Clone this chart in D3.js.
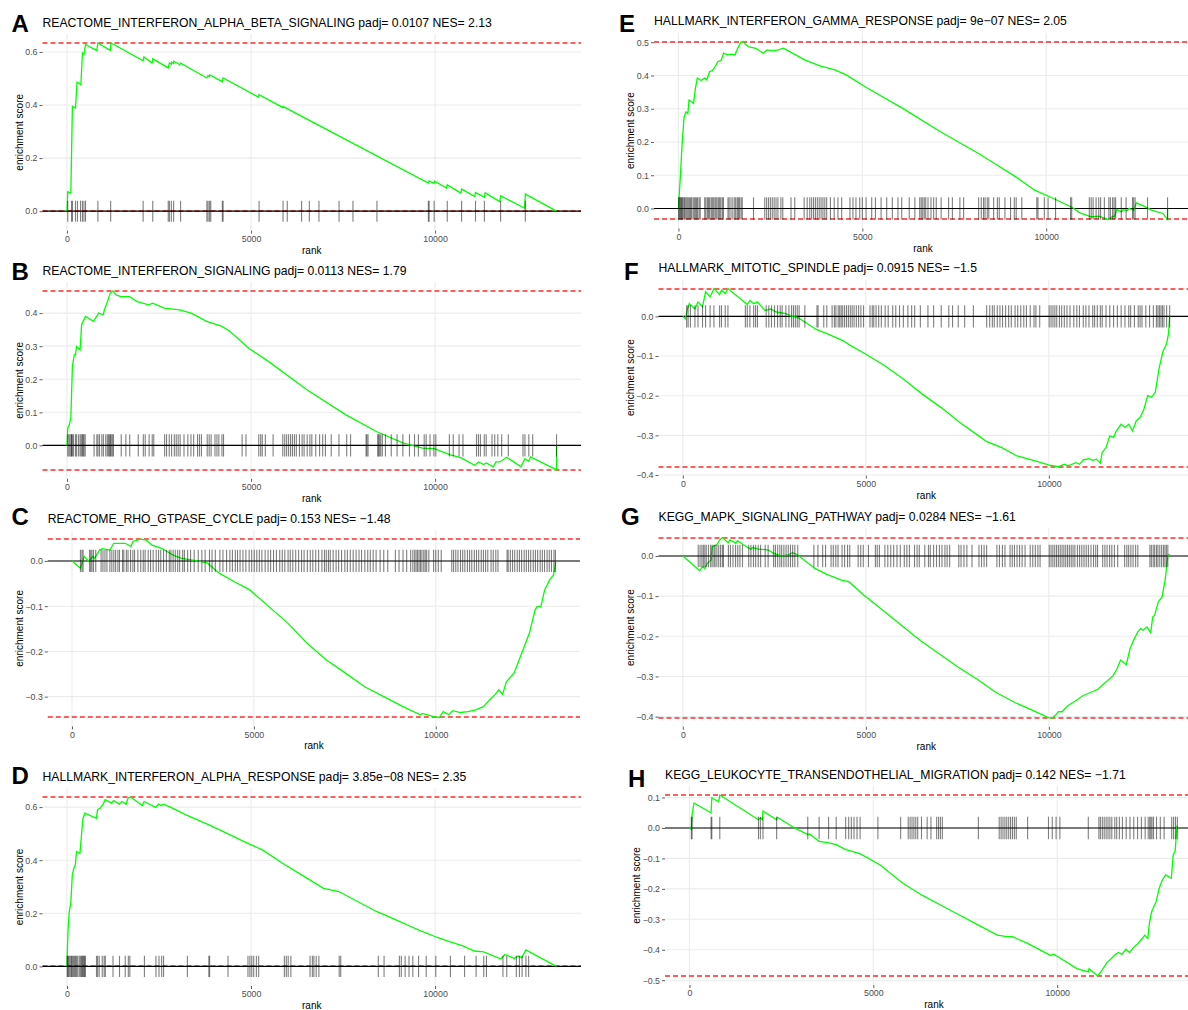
<!DOCTYPE html>
<html lang="en">
<head>
    <meta charset="UTF-8">
    <title>GSEA enrichment plots</title>
    <script type="text/javascript" src="https://cdn.jsdelivr.net/npm/d3@7/dist/d3.min.js"></script>
    <style>
        body {
            margin: 0;
            background: #fff;
        }

        svg {
            display: block;
            font-family: "Liberation Sans", Arial, sans-serif;
        }

        .grid line {
            stroke: #ebebeb;
            stroke-width: 1.1;
        }

        .axis path {
            display: none;
        }

        .axis line {
            stroke: #333;
            stroke-width: 0.8;
        }

        .axis text {
            fill: #4d4d4d;
            font-size: 8.8px;
            font-family: "Liberation Sans", Arial, sans-serif;
        }

        .lim {
            stroke: #ff2a2a;
            stroke-width: 1.6;
            stroke-dasharray: 5, 3;
            fill: none;
        }

        .zero {
            stroke: #000;
            stroke-width: 1.1;
        }

        .es {
            fill: none;
            stroke: #00ff00;
            stroke-width: 1.3;
        }

        .hit {
            stroke: #000;
            stroke-width: 1.1;
            stroke-opacity: 0.5;
        }

        .label {
            font-size: 10px;
            fill: #000;
        }

        .title {
            font-size: 12.2px;
            fill: #000;
        }

        .letter {
            font-size: 24px;
            font-weight: bold;
            fill: #000;
        }
    </style>
</head>
<body>
<script type="text/javascript">
    // 排序基因列表长度
    let geneCount = 13300;
    let xTicks = [0, 5000, 10000];

    /* A */
    let titleA = 'REACTOME_INTERFERON_ALPHA_BETA_SIGNALING padj= 0.0107 NES= 2.13';
    let yTicksA = [0, 0.2, 0.4, 0.6];
    let curveA = [[0, 0], [21, 0.073], [105, 0.068], [126, 0.23], [147, 0.395], [231, 0.389], [273, 0.486], [378, 0.477],
        [420, 0.596], [462, 0.592], [504, 0.628], [809, 0.605], [840, 0.634], [1176, 0.606], [1197, 0.634], [2069, 0.567],
        [2090, 0.581], [2310, 0.558], [2331, 0.574], [2751, 0.54], [2783, 0.558], [2835, 0.554], [2845, 0.562], [2898, 0.557],
        [2905, 0.565], [3066, 0.552], [3087, 0.558], [3801, 0.502], [3833, 0.511], [3870, 0.507], [3880, 0.513], [4221, 0.488],
        [4242, 0.502], [5198, 0.43], [5219, 0.439], [5870, 0.39], [5875, 0.394], [9818, 0.106], [9839, 0.114], [9970, 0.105],
        [9990, 0.113], [10311, 0.087], [10332, 0.099], [10700, 0.068], [10721, 0.083], [11078, 0.055], [11099, 0.07],
        [11340, 0.052], [11361, 0.069], [11760, 0.036], [11781, 0.058], [12432, 0.011], [12453, 0.064], [13300, 0]];
    let hitsA = [21, 126, 147, 231, 284, 368, 420, 462, 504, 840, 1187, 2069, 2331, 2751, 2783, 2835, 2898, 3087, 3801, 3833,
        3875, 3906, 4221, 4242, 5219, 5870, 5985, 6374, 6584, 6846, 7392, 7770, 8421, 9818, 9839, 9975, 10332, 10721, 11099,
        11340, 11781, 12453];

    /* B */
    let titleB = 'REACTOME_INTERFERON_SIGNALING padj= 0.0113 NES= 1.79';
    let yTicksB = [0, 0.1, 0.2, 0.3, 0.4];
    let curveB = [[0, 0], [21, 0.052], [63, 0.062], [105, 0.083], [147, 0.239], [199, 0.274], [231, 0.274], [262, 0.299],
        [356, 0.289], [398, 0.365], [440, 0.375], [503, 0.39], [723, 0.375], [807, 0.39], [859, 0.4], [985, 0.395],
        [1017, 0.41], [1100, 0.435], [1174, 0.46], [1247, 0.467], [1331, 0.455], [1467, 0.45], [1698, 0.45], [1907, 0.435],
        [2222, 0.425], [2327, 0.43], [2641, 0.415], [3060, 0.41], [3375, 0.4], [3794, 0.375], [4213, 0.36], [4423, 0.345],
        [4947, 0.293], [5471, 0.254], [6519, 0.168], [7567, 0.093], [8405, 0.042], [9139, 0.007], [9663, -0.008],
        [9977, -0.01], [10396, -0.028], [10711, -0.038], [11077, -0.06], [11182, -0.05], [11318, -0.058], [11392, -0.053],
        [11580, -0.065], [11654, -0.05], [11759, -0.05], [11947, -0.036], [12335, -0.065], [12440, -0.04], [12545, -0.048],
        [12597, -0.035], [13300, -0.074], [13300, 0]];
    let hitsB = [21, 53, 84, 116, 126, 147, 179, 232, 263, 316, 358, 389, 421, 442, 463, 495, 737, 811, 842, 884, 947, 989,
        1053, 1095, 1126, 1158, 1179, 1200, 1232, 1263, 1474, 1600, 1705, 1937, 2074, 2126, 2232, 2316, 2358, 2653, 2705,
        2779, 2842, 2916, 2968, 3021, 3074, 3179, 3284, 3368, 3442, 3547, 3600, 3653, 3810, 3863, 3916, 4021, 4074, 4126,
        4210, 4253, 4758, 4863, 5210, 5263, 5305, 5389, 5600, 5863, 5916, 5968, 6021, 6074, 6126, 6179, 6231, 6316, 6389,
        6442, 6526, 6600, 6652, 6758, 6863, 6947, 7021, 7179, 7389, 7600, 7705, 8126, 8147, 8179, 8442, 8463, 8495, 8526,
        8568, 8652, 8810, 8968, 9126, 9305, 9442, 9547, 9705, 9758, 9863, 9968, 10021, 10389, 10494, 10652, 10758, 11126,
        11179, 11232, 11337, 11389, 11547, 11621, 11705, 11810, 11990, 12389, 12442, 12547, 12653, 13300];

    /* C */
    let titleC = 'REACTOME_RHO_GTPASE_CYCLE padj= 0.153 NES= \u22121.48';
    let yTicksC = [-0.3, -0.2, -0.1, 0];
    let curveC = [[0, 0], [232, -0.016], [337, 0.01], [463, -0.001], [569, 0.01], [621, 0.006], [758, 0.024], [832, 0.027],
        [1042, 0.024], [1148, 0.039], [1464, 0.039], [1622, 0.032], [1674, 0.043], [1885, 0.048], [2043, 0.046],
        [2201, 0.035], [2464, 0.028], [2780, 0.013], [2991, 0.006], [3306, 0.002], [3517, -0.001], [3728, -0.005],
        [4044, -0.027], [4465, -0.046], [4886, -0.064], [5412, -0.101], [5939, -0.138], [6465, -0.182], [6992, -0.219],
        [7518, -0.248], [8045, -0.278], [8571, -0.3], [9098, -0.322], [9572, -0.34], [9624, -0.337], [9940, -0.344],
        [10098, -0.346], [10204, -0.333], [10362, -0.34], [10467, -0.331], [10678, -0.335], [10888, -0.333], [11099, -0.329],
        [11309, -0.322], [11520, -0.304], [11625, -0.296], [11730, -0.285], [11836, -0.295], [11941, -0.267], [12152, -0.248],
        [12362, -0.204], [12573, -0.16], [12731, -0.108], [12784, -0.101], [12889, -0.101], [12994, -0.064], [13131, -0.042],
        [13236, -0.031], [13278, -0.013], [13300, 0]];
    let hitsC = [232, 274, 305, 484, 516, 548, 590, 653, 800, 851, 906, 960, 1042, 1095, 1150, 1200, 1262, 1306, 1390, 1425,
        1495, 1540, 1610, 1674, 1720, 1811, 1890, 1959, 2010, 2095, 2160, 2232, 2315, 2380, 2440, 2517, 2596, 2675, 2720,
        2780, 2840, 2906, 2960, 3043, 3090, 3180, 3260, 3359, 3470, 3570, 3660, 3780, 3850, 3940, 4065, 4150, 4250, 4340,
        4410, 4490, 4550, 4620, 4700, 4780, 4870, 4940, 5010, 5080, 5150, 5220, 5310, 5390, 5460, 5540, 5620, 5710, 5780,
        5850, 5940, 6000, 6070, 6150, 6230, 6310, 6380, 6470, 6550, 6620, 6700, 6780, 6870, 6940, 6990, 7050, 7100, 7180,
        7260, 7330, 7410, 7500, 7570, 7650, 7730, 7810, 7890, 7960, 8050, 8130, 8200, 8280, 8360, 8470, 8570, 8680, 8890,
        8990, 9100, 9200, 9310, 9370, 9420, 9460, 9500, 9540, 9580, 9620, 9670, 9710, 9750, 9810, 9940, 10000, 10070, 10150,
        10440, 10490, 10550, 10610, 10680, 10740, 10800, 10870, 10930, 10990, 11060, 11120, 11180, 11250, 11310, 11370,
        11430, 11520, 11580, 11650, 11710, 11960, 11990, 12050, 12110, 12170, 12240, 12300, 12360, 12430, 12490, 12550,
        12610, 12680, 12740, 12800, 12870, 12930, 12990, 13060, 13120, 13180, 13250, 13290];

    /* D */
    let titleD = 'HALLMARK_INTERFERON_ALPHA_RESPONSE padj= 3.85e\u221208 NES= 2.35';
    let yTicksD = [0, 0.2, 0.4, 0.6];
    let curveD = [[0, 0], [10, 0.062], [31, 0.143], [62, 0.206], [104, 0.238], [145, 0.345], [187, 0.37], [228, 0.382],
        [259, 0.433], [353, 0.426], [394, 0.496], [436, 0.558], [487, 0.577], [798, 0.558], [830, 0.59], [902, 0.596],
        [975, 0.609], [1037, 0.628], [1213, 0.615], [1265, 0.624], [1421, 0.611], [1493, 0.621], [1607, 0.611], [1659, 0.634],
        [1732, 0.638], [2043, 0.606], [2095, 0.621], [2406, 0.599], [2489, 0.611], [2561, 0.606], [2613, 0.611], [2821, 0.599],
        [3235, 0.571], [3858, 0.533], [4376, 0.499], [4998, 0.458], [5309, 0.439], [5932, 0.382], [6450, 0.338],
        [6969, 0.294], [7383, 0.282], [8420, 0.206], [8628, 0.194], [9043, 0.169], [9250, 0.156], [9561, 0.137],
        [10080, 0.108], [10391, 0.093], [10754, 0.077], [11065, 0.058], [11324, 0.055], [11790, 0.028], [11894, 0.045],
        [12153, 0.03], [12257, 0.039], [12361, 0.033], [12465, 0.062], [13300, 0]];
    let hitsD = [5, 21, 42, 73, 104, 125, 146, 177, 208, 229, 261, 292, 333, 365, 396, 417, 438, 458, 479, 500, 802, 833,
        875, 958, 1010, 1042, 1250, 1427, 1583, 1667, 1708, 2104, 2417, 2500, 2573, 2625, 3271, 3854, 3875, 4375, 4917, 4969,
        5021, 5073, 5146, 5208, 5906, 5958, 6010, 6083, 6604, 6667, 6708, 6771, 6844, 7396, 7437, 8458, 8615, 9031, 9083,
        9187, 9292, 9396, 9552, 9760, 10020, 10417, 10802, 11115, 11323, 11396, 11844, 11948, 12208, 12292, 12365, 12469,
        12542];

    /* E */
    let titleE = 'HALLMARK_INTERFERON_GAMMA_RESPONSE padj= 9e\u221207 NES= 2.05';
    let yTicksE = [0, 0.1, 0.2, 0.3, 0.4, 0.5];
    let curveE = [[0, 0], [20, 0.04], [51, 0.095], [103, 0.201], [154, 0.276], [205, 0.291], [256, 0.286], [287, 0.326],
        [359, 0.321], [410, 0.316], [461, 0.361], [513, 0.392], [615, 0.385], [718, 0.392], [769, 0.387], [851, 0.412],
        [923, 0.415], [974, 0.422], [1076, 0.442], [1158, 0.445], [1230, 0.467], [1333, 0.462], [1435, 0.464], [1538, 0.462],
        [1589, 0.477], [1691, 0.499], [1743, 0.502], [1896, 0.487], [2101, 0.482], [2306, 0.467], [2409, 0.477],
        [2563, 0.474], [2716, 0.477], [2850, 0.482], [3024, 0.472], [3434, 0.447], [3844, 0.429], [4254, 0.417],
        [4561, 0.402], [5074, 0.366], [6099, 0.301], [7124, 0.231], [8149, 0.166], [8661, 0.131], [9174, 0.095],
        [9686, 0.055], [10199, 0.03], [10711, 0.003], [10916, -0.013], [11224, -0.025], [11429, -0.023], [11685, -0.033],
        [11788, -0.025], [11859, -0.023], [11921, -0.003], [12044, -0.01], [12095, -0.003], [12198, -0.007], [12249, 0],
        [12382, -0.005], [12454, 0.017], [12659, 0.007], [12864, -0.005], [13171, -0.015], [13300, -0.033], [13300, 0]];
    let hitsE = [5, 20, 41, 61, 82, 102, 122, 153, 173, 204, 235, 265, 296, 327, 357, 398, 429, 459, 490, 520, 561, 592, 714,
        745, 786, 816, 847, 888, 918, 949, 990, 1020, 1051, 1092, 1122, 1153, 1194, 1224, 1347, 1378, 1429, 1480, 1531, 1561,
        1602, 1633, 1663, 1704, 1735, 2041, 2347, 2398, 2449, 2500, 2551, 2602, 2653, 2704, 2786, 2837, 3061, 3163, 3418,
        3500, 3571, 3622, 3673, 3724, 3776, 3827, 3878, 3929, 3980, 4031, 4133, 4235, 4337, 4439, 4663, 4745, 4827, 4929,
        5000, 5102, 5255, 5357, 5510, 5663, 5816, 5969, 6071, 6276, 6429, 6561, 6602, 6643, 6684, 6724, 6786, 6867, 6939,
        7010, 7143, 7347, 7449, 7653, 7755, 8163, 8235, 8296, 8337, 8398, 8439, 8571, 8673, 8724, 8878, 9031, 9133, 9184,
        9337, 9745, 9776, 9949, 10051, 10255, 10663, 10694, 11173, 11224, 11276, 11357, 11429, 11480, 11582, 11704, 11745,
        11806, 11847, 11888, 12041, 12173, 12347, 12378, 12418, 12755, 13300];

    /* F */
    let titleF = 'HALLMARK_MITOTIC_SPINDLE padj= 0.0915 NES= \u22121.5';
    let yTicksF = [-0.4, -0.3, -0.2, -0.1, 0];
    let curveF = [[0, 0], [72, -0.006], [124, 0.019], [176, 0.032], [331, 0.019], [414, 0.036], [538, 0.024], [621, 0.062],
        [745, 0.049], [849, 0.07], [1004, 0.055], [1056, 0.066], [1159, 0.057], [1232, 0.07], [1677, 0.036], [1760, 0.03],
        [1832, 0.04], [1935, 0.032], [2039, 0.036], [2246, 0.015], [2401, 0.019], [2556, 0.011], [2815, 0.007], [2970, 0],
        [3126, -0.002], [3333, -0.014], [3643, -0.033], [3954, -0.044], [4368, -0.061], [4575, -0.073], [4989, -0.095],
        [5506, -0.124], [6024, -0.158], [6541, -0.196], [7059, -0.23], [7576, -0.268], [8094, -0.302], [8301, -0.316],
        [8715, -0.331], [9129, -0.352], [9646, -0.365], [10060, -0.376], [10267, -0.379], [10422, -0.373], [10526, -0.377],
        [10733, -0.369], [10836, -0.373], [10940, -0.362], [11095, -0.359], [11199, -0.363], [11302, -0.36], [11406, -0.37],
        [11457, -0.343], [11561, -0.331], [11664, -0.301], [11768, -0.305], [11840, -0.289], [11975, -0.272], [12078, -0.28],
        [12182, -0.272], [12285, -0.289], [12389, -0.263], [12492, -0.255], [12596, -0.234], [12700, -0.2], [12803, -0.204],
        [12906, -0.192], [13010, -0.132], [13113, -0.09], [13216, -0.069], [13268, -0.044], [13300, 0]];
    let hitsF = [104, 145, 207, 331, 414, 538, 621, 745, 849, 1004, 1056, 1159, 1232, 1708, 1760, 1832, 1935, 1987, 2039,
        2277, 2349, 2422, 2505, 2588, 2660, 2712, 2815, 2898, 2970, 3022, 3074, 3126, 3177, 3333, 3664, 3695, 3850, 3933,
        4078, 4140, 4181, 4244, 4285, 4326, 4368, 4419, 4471, 4523, 4575, 4626, 4678, 4740, 4802, 4865, 4937, 5113, 5175,
        5216, 5279, 5351, 5423, 5527, 5610, 5734, 5817, 5920, 6024, 6148, 6251, 6334, 6489, 6696, 6852, 7059, 7266, 7369,
        7524, 7700, 7938, 8301, 8384, 8456, 8508, 8591, 8663, 8735, 8818, 8901, 8973, 9077, 9149, 9232, 9315, 9387, 9491,
        9594, 9646, 9750, 10008, 10060, 10112, 10164, 10215, 10288, 10350, 10422, 10495, 10577, 10681, 10764, 10836, 10940,
        11012, 11095, 11199, 11250, 11323, 11406, 11457, 11561, 11664, 11768, 11871, 11975, 12078, 12182, 12234, 12337,
        12441, 12492, 12544, 12648, 12751, 12855, 12938, 12979, 13020, 13062, 13103, 13145, 13217, 13300];

    /* G */
    let titleG = 'KEGG_MAPK_SIGNALING_PATHWAY padj= 0.0284 NES= \u22121.61';
    let yTicksG = [-0.4, -0.3, -0.2, -0.1, 0];
    let curveG = [[0, 0], [464, -0.037], [536, -0.027], [598, -0.031], [670, -0.018], [773, -0.01], [804, 0.023],
        [928, 0.028], [1010, 0.04], [1082, 0.046], [1237, 0.033], [1289, 0.04], [1443, 0.032], [1495, 0.038], [1650, 0.028],
        [1856, 0.017], [1907, 0.021], [2062, 0.017], [2320, 0.015], [2474, 0.007], [2681, 0], [2887, 0.003], [2990, 0.008],
        [3093, 0.005], [3196, -0.002], [3609, -0.031], [3918, -0.045], [4330, -0.06], [4536, -0.064], [4949, -0.098],
        [5464, -0.135], [5980, -0.173], [6495, -0.211], [7011, -0.244], [7526, -0.277], [8042, -0.307], [8557, -0.34],
        [9073, -0.365], [9588, -0.386], [10001, -0.403], [10104, -0.403], [10207, -0.394], [10258, -0.388], [10361, -0.388],
        [10516, -0.373], [10722, -0.361], [10928, -0.348], [11134, -0.34], [11340, -0.332], [11495, -0.319], [11598, -0.311],
        [11753, -0.298], [11856, -0.282], [11959, -0.259], [12114, -0.271], [12217, -0.231], [12320, -0.209], [12423, -0.19],
        [12506, -0.181], [12578, -0.185], [12681, -0.177], [12784, -0.191], [12836, -0.152], [12887, -0.148], [12990, -0.114],
        [13093, -0.102], [13176, -0.06], [13248, -0.002], [13300, 0.005]];
    let hitsG = [420, 470, 520, 560, 600, 640, 700, 760, 800, 850, 880, 930, 980, 1030, 1080, 1110, 1245, 1300, 1370, 1440,
        1500, 1560, 1630, 1800, 1860, 1930, 1990, 2060, 2125, 2250, 2330, 2480, 2530, 2590, 2650, 2700, 2760, 2820, 2880,
        2940, 3000, 3060, 3140, 3580, 3690, 3820, 3900, 4050, 4110, 4180, 4240, 4350, 4420, 4500, 4560, 4790, 4860, 4930,
        5070, 5260, 5310, 5370, 5520, 5600, 5680, 5760, 5850, 5940, 6050, 6120, 6190, 6330, 6400, 6460, 6610, 6710, 6760,
        6850, 6930, 7010, 7080, 7160, 7220, 7290, 7540, 7600, 7680, 7760, 7900, 8090, 8160, 8230, 8300, 8580, 8650, 8730,
        8800, 8940, 9000, 9060, 9130, 9200, 9270, 9350, 9490, 9560, 9630, 9700, 9760, 10010, 10060, 10110, 10160, 10210,
        10260, 10310, 10360, 10410, 10460, 10510, 10560, 10610, 10660, 10710, 10780, 10840, 10900, 10960, 11020, 11080,
        11150, 11220, 11280, 11330, 11470, 11530, 11590, 11660, 11720, 11790, 11880, 12070, 12130, 12180, 12240, 12300,
        12370, 12430, 12760, 12800, 12850, 12890, 12940, 12980, 13030, 13080, 13130, 13170, 13210, 13250];

    /* H */
    let titleH = 'KEGG_LEUKOCYTE_TRANSENDOTHELIAL_MIGRATION padj= 0.142 NES= \u22121.71';
    let yTicksH = [-0.5, -0.4, -0.3, -0.2, -0.1, 0, 0.1];
    let curveH = [[0, 0], [52, -0.005], [72, 0.044], [124, 0.082], [588, 0.049], [608, 0.099], [794, 0.086], [825, 0.108],
        [1876, 0.027], [1928, 0.033], [1980, 0.027], [2000, 0.055], [2371, 0.027], [2392, 0.035], [2856, 0], [3217, -0.022],
        [3268, -0.02], [3526, -0.044], [3784, -0.049], [3990, -0.055], [4248, -0.071], [4475, -0.079], [4660, -0.086],
        [5176, -0.121], [5794, -0.181], [6310, -0.22], [6825, -0.253], [7341, -0.286], [7856, -0.319], [8372, -0.352],
        [8629, -0.357], [8784, -0.357], [8887, -0.363], [9196, -0.379], [9712, -0.412], [9815, -0.418], [9918, -0.415],
        [10021, -0.423], [10536, -0.462], [10845, -0.473], [10866, -0.462], [11103, -0.486], [11155, -0.478],
        [11247, -0.462], [11351, -0.442], [11454, -0.431], [11557, -0.418], [11660, -0.409], [11763, -0.415],
        [11867, -0.398], [11970, -0.409], [12073, -0.393], [12176, -0.382], [12279, -0.368], [12382, -0.352],
        [12464, -0.363], [12506, -0.313], [12568, -0.275], [12691, -0.242], [12774, -0.198], [12846, -0.174],
        [12949, -0.154], [13104, -0.165], [13155, -0.088], [13207, -0.077], [13258, 0.005], [13300, 0]];
    let hitsH = [52, 72, 588, 608, 825, 1877, 1928, 2000, 2371, 3217, 3526, 3784, 3990, 4248, 4330, 4402, 4475, 4557, 4640,
        5124, 5743, 5949, 6000, 6052, 6103, 6155, 6207, 6310, 6464, 6567, 6722, 6774, 6825, 6877, 7856, 8423, 8475, 8526,
        8578, 8629, 8681, 8732, 8784, 8836, 8887, 9196, 9763, 9866, 9970, 10073, 10846, 11134, 11175, 11227, 11278, 11330,
        11382, 11433, 11485, 11567, 11619, 11691, 11773, 11876, 11979, 12082, 12186, 12289, 12392, 12475, 12516, 12547,
        12578, 12619, 12701, 12804, 12908, 13114, 13165, 13217, 13268];

    // 各子图组合
    let panels = [
        {key: 'A', title: titleA, curve: curveA, hits: hitsA, yTicks: yTicksA},
        {key: 'B', title: titleB, curve: curveB, hits: hitsB, yTicks: yTicksB},
        {key: 'C', title: titleC, curve: curveC, hits: hitsC, yTicks: yTicksC},
        {key: 'D', title: titleD, curve: curveD, hits: hitsD, yTicks: yTicksD},
        {key: 'E', title: titleE, curve: curveE, hits: hitsE, yTicks: yTicksE},
        {key: 'F', title: titleF, curve: curveF, hits: hitsF, yTicks: yTicksF},
        {key: 'G', title: titleG, curve: curveG, hits: hitsG, yTicks: yTicksG},
        {key: 'H', title: titleH, curve: curveH, hits: hitsH, yTicks: yTicksH}
    ];

    // 绘图区位置（像素）
    let boxes = {
        A: {left: 42.5, right: 581, top: 34, bottom: 230.6},
        B: {left: 42.5, right: 581, top: 282, bottom: 478.8},
        C: {left: 47.8, right: 580, top: 530.3, bottom: 726.4},
        D: {left: 42.5, right: 581, top: 788, bottom: 986},
        E: {left: 654, right: 1192, top: 32.7, bottom: 228.5},
        F: {left: 658.5, right: 1194, top: 279.7, bottom: 475.6},
        G: {left: 658.5, right: 1194, top: 528.5, bottom: 726.8},
        H: {left: 665, right: 1203, top: 786, bottom: 985}
    };
    let letterPos = {
        A: [11.5, 31.7], B: [11.5, 280], C: [11.5, 525], D: [11.5, 784],
        E: [619, 31.7], F: [624, 280], G: [621, 525], H: [628, 786.7]
    };

    let svg = d3.select('body')
        .append('svg')
        .attr('width', 1188)
        .attr('height', 1010);

    panels.forEach(function (p) {
        let b = boxes[p.key];
        let g = svg.append('g');

        let x = d3.scaleLinear()
            .domain([-0.05 * geneCount, 1.05 * geneCount])
            .range([b.left, b.right]);

        // y范围：曲线 + 基因竖线，再留5%空白
        let maxES = d3.max(p.curve, d => d[1]);
        let minES = d3.min(p.curve, d => d[1]);
        let tickH = (maxES - minES) / 8;
        let lo = Math.min(minES, -tickH / 2);
        let hi = Math.max(maxES, tickH / 2);
        let pad = (hi - lo) * 0.05;
        let y = d3.scaleLinear()
            .domain([lo - pad, hi + pad])
            .range([b.bottom, b.top]);

        // 网格线
        g.append('g').attr('class', 'grid')
            .selectAll('line')
            .data(p.yTicks)
            .enter()
            .append('line')
            .attr('x1', b.left)
            .attr('x2', b.right)
            .attr('y1', d => y(d))
            .attr('y2', d => y(d));
        g.append('g').attr('class', 'grid')
            .selectAll('line')
            .data(xTicks)
            .enter()
            .append('line')
            .attr('x1', d => x(d))
            .attr('x2', d => x(d))
            .attr('y1', b.top)
            .attr('y2', b.bottom);

        // 最大/最小ES虚线
        g.append('g')
            .selectAll('line')
            .data([maxES, minES])
            .enter()
            .append('line')
            .attr('class', 'lim')
            .attr('x1', b.left)
            .attr('x2', b.right)
            .attr('y1', d => Math.round(y(d)))
            .attr('y2', d => Math.round(y(d)));

        // 0线
        g.append('line')
            .attr('class', 'zero')
            .attr('x1', b.left)
            .attr('x2', b.right)
            .attr('y1', y(0))
            .attr('y2', y(0));

        // ES曲线
        let line = d3.line()
            .x(d => x(d[0]))
            .y(d => y(d[1]));
        g.append('path')
            .datum(p.curve)
            .attr('class', 'es')
            .attr('d', line);

        // 基因位置竖线
        g.append('g')
            .selectAll('line')
            .data(p.hits)
            .enter()
            .append('line')
            .attr('class', 'hit')
            .attr('x1', d => x(d))
            .attr('x2', d => x(d))
            .attr('y1', y(-tickH / 2))
            .attr('y2', y(tickH / 2));

        // 坐标轴
        let yAxis = g.append('g')
            .attr('class', 'axis')
            .attr('transform', 'translate(' + b.left + ',0)')
            .call(d3.axisLeft(y).tickValues(p.yTicks).tickSize(3).tickPadding(2).tickFormat(d3.format('.1f')));
        g.append('g')
            .attr('class', 'axis')
            .attr('transform', 'translate(0,' + b.bottom + ')')
            .call(d3.axisBottom(x).tickValues(xTicks).tickSize(3).tickPadding(2).tickFormat(d3.format('d')));

        let bb = yAxis.node().getBBox();
        g.append('text')
            .attr('class', 'label')
            .attr('transform', 'translate(' + (b.left + bb.x - 6) + ',' + ((b.top + b.bottom) / 2) + ') rotate(-90)')
            .attr('text-anchor', 'middle')
            .attr('dy', '0.35em')
            .text('enrichment score');
        g.append('text')
            .attr('class', 'label')
            .attr('x', (b.left + b.right) / 2)
            .attr('y', b.bottom + 23)
            .attr('text-anchor', 'middle')
            .text('rank');

        // 标题与字母
        g.append('text')
            .attr('class', 'title')
            .attr('x', b.left)
            .attr('y', b.top - 7.5)
            .text(p.title);
        g.append('text')
            .attr('class', 'letter')
            .attr('x', letterPos[p.key][0])
            .attr('y', letterPos[p.key][1])
            .text(p.key);
    });
</script>
</body>
</html>
